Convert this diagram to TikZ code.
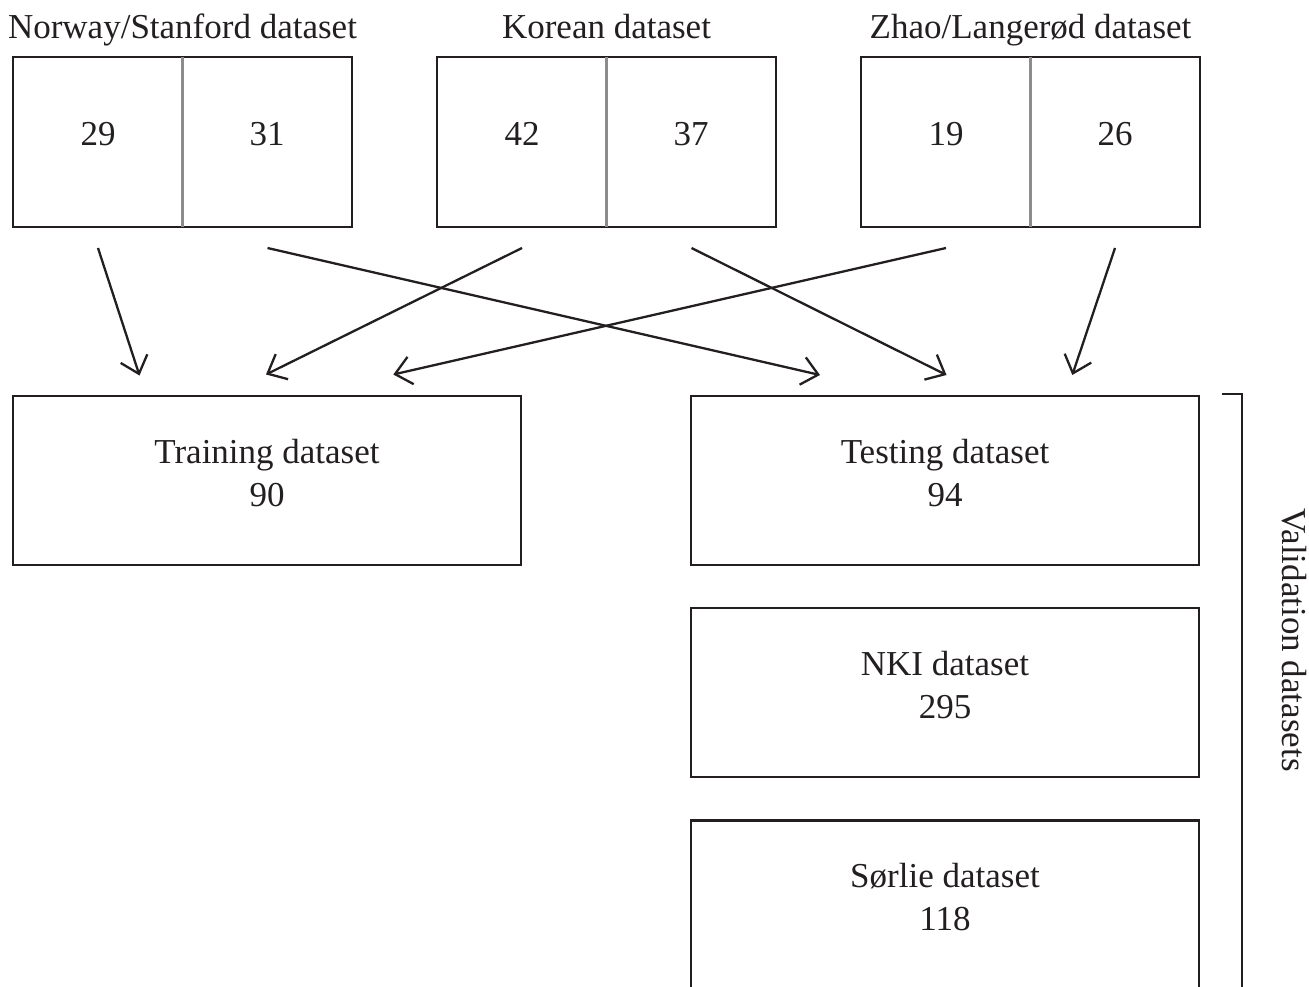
\documentclass[tikz,border=0pt]{standalone}
\usepackage{fontspec}
\setmainfont{Liberation Serif}
\usetikzlibrary{arrows.meta}
\definecolor{ink}{HTML}{231F20}
\definecolor{divgray}{HTML}{8C8C8C}
\begin{document}
\begin{tikzpicture}[x=1pt,y=-1pt,
  box/.style={draw=ink, line width=2.3pt, minimum width=339pt, minimum height=170pt, inner sep=0pt},
  bigbox/.style={draw=ink, line width=2.3pt, minimum width=508pt, minimum height=169pt, inner sep=0pt},
  lbl/.style={text=ink, font=\fontsize{35}{43}\selectfont, align=center, inner sep=0pt},
  divider/.style={draw=divgray, line width=2.2pt, shorten <=1pt, shorten >=1pt},
  arr/.style={draw=ink, line width=2.3pt, -{Straight Barb[length=16pt,width=28pt,line width=2.3pt]}},
]
\useasboundingbox (0,0) rectangle (1309,987);
\clip (0,0) rectangle (1309,987);

% top boxes
\node[box] (nor) at (182.5,142) {};
\node[box] (kor) at (606.5,142) {};
\node[box] (zha) at (1030.5,142) {};
\draw[divider] (nor.north) -- (nor.south);
\draw[divider] (kor.north) -- (kor.south);
\draw[divider] (zha.north) -- (zha.south);

\node[lbl, anchor=base] (tnor) at (182.5,39) {Norway/Stanford dataset};
\node[lbl, anchor=base] (tkor) at (606.5,39) {Korean dataset};
\node[lbl, anchor=base] (tzha) at (1030.5,39) {Zhao/Langerød dataset};

\node[lbl] (n29) at (98,134) {29};
\node[lbl] (n31) at (267,134) {31};
\node[lbl] (n42) at (522,134) {42};
\node[lbl] (n37) at (691,134) {37};
\node[lbl] (n19) at (946,134) {19};
\node[lbl] (n26) at (1115,134) {26};

% bottom boxes
\node[bigbox] (train) at (267,480.5) {};
\node[bigbox] (test) at (945,480.5) {};
\node[bigbox] (nki) at (945,692.5) {};
\node[bigbox] (sor) at (945,905) {};

\node[lbl] (ttrain) at (267,473) {Training dataset\\90};
\node[lbl] (ttest) at (945,473) {Testing dataset\\94};
\node[lbl] (tnki) at (945,685) {NKI dataset\\295};
\node[lbl] (tsor) at (945,897.5) {Sørlie dataset\\118};

% arrow endpoints
\coordinate (s1) at (98,248);
\coordinate (s2) at (267.5,248);
\coordinate (s3) at (522,248);
\coordinate (s4) at (691.5,248);
\coordinate (s5) at (946,248);
\coordinate (s6) at (1115,248);
\coordinate (e1) at (139.5,375.5);
\coordinate (e2) at (820,375);
\coordinate (e3) at (266,374.5);
\coordinate (e4) at (946.5,375);
\coordinate (e5) at (393.3,374.5);
\coordinate (e6) at (1072.3,375);

\draw[arr] (s1) -- (e1);
\draw[arr] (s2) -- (e2);
\draw[arr] (s3) -- (e3);
\draw[arr] (s4) -- (e4);
\draw[arr] (s5) -- (e5);
\draw[arr] (s6) -- (e6);

% validation bracket
\coordinate (b1) at (1222,394);
\coordinate (b2) at (1242,394);
\coordinate (b3) at (1242,1000);
\draw[ink, line width=2.3pt] (b1) -- (b2) -- (b3);
\node[lbl, rotate=-90] (val) at (1294,640) {Validation datasets};
\end{tikzpicture}
\end{document}
